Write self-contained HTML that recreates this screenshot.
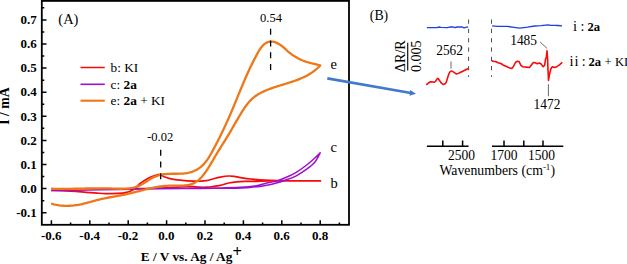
<!DOCTYPE html>
<html><head><meta charset="utf-8"><style>
html,body{margin:0;padding:0;background:#fff;width:627px;height:264px;overflow:hidden}
svg{display:block}
text{fill:#000;font-family:"Liberation Serif",serif}
</style></head><body>
<svg width="627" height="264" viewBox="0 0 627 264">
<rect x="41.8" y="0.9" width="307.2" height="223.9" fill="none" stroke="#000" stroke-width="1.8"/>
<path d="M41.8,212.70H46.50 M41.8,200.65H44.30 M41.8,188.60H46.50 M41.8,176.55H44.30 M41.8,164.50H46.50 M41.8,152.45H44.30 M41.8,140.40H46.50 M41.8,128.35H44.30 M41.8,116.30H46.50 M41.8,104.25H44.30 M41.8,92.20H46.50 M41.8,80.15H44.30 M41.8,68.10H46.50 M41.8,56.05H44.30 M41.8,44.00H46.50 M41.8,31.95H44.30 M41.8,19.90H46.50 M41.8,7.85H44.30 M51.40,224.8V220.30 M70.60,224.8V222.60 M89.80,224.8V220.30 M109.00,224.8V222.60 M128.20,224.8V220.30 M147.40,224.8V222.60 M166.60,224.8V220.30 M185.80,224.8V222.60 M205.00,224.8V220.30 M224.20,224.8V222.60 M243.40,224.8V220.30 M262.60,224.8V222.60 M281.80,224.8V220.30 M301.00,224.8V222.60 M320.20,224.8V220.30 M339.40,224.8V222.60" stroke="#000" stroke-width="1.5" fill="none"/>
<path d="M51.20,190.40 C53.62,190.47 61.55,190.63 65.70,190.80 C69.85,190.97 72.63,191.13 76.10,191.40 C79.57,191.67 83.05,192.12 86.50,192.40 C89.95,192.68 93.72,192.90 96.80,193.10 C99.88,193.30 102.57,193.50 105.00,193.60 C107.43,193.70 108.45,193.78 111.40,193.70 C114.35,193.62 119.93,193.38 122.70,193.10 C125.47,192.82 126.45,192.47 128.00,192.00 C129.55,191.53 130.83,190.87 132.00,190.30 C133.17,189.73 134.08,189.32 135.00,188.60 C135.92,187.88 136.70,186.83 137.50,186.00 C138.30,185.17 138.72,184.47 139.80,183.60 C140.88,182.73 142.52,181.73 144.00,180.80 C145.48,179.87 147.13,178.80 148.70,178.00 C150.27,177.20 151.82,176.58 153.40,176.00 C154.98,175.42 156.93,174.67 158.20,174.50 C159.47,174.33 159.87,174.58 161.00,175.00 C162.13,175.42 163.50,176.40 165.00,177.00 C166.50,177.60 167.50,178.07 170.00,178.60 C172.50,179.13 176.12,179.78 180.00,180.20 C183.88,180.62 188.88,181.03 193.30,181.10 C197.72,181.17 203.38,180.92 206.50,180.60 C209.62,180.28 209.70,179.78 212.00,179.20 C214.30,178.62 217.52,177.63 220.30,177.10 C223.08,176.57 226.20,176.08 228.70,176.00 C231.20,175.92 232.80,176.23 235.30,176.60 C237.80,176.97 240.92,177.78 243.70,178.20 C246.48,178.62 248.45,178.78 252.00,179.10 C255.55,179.42 258.67,179.82 265.00,180.10 C271.33,180.38 280.75,180.67 290.00,180.80 C299.25,180.93 315.42,180.88 320.50,180.90 C315.42,180.90 298.42,180.92 290.00,180.90 C281.58,180.88 275.83,180.73 270.00,180.80 C264.17,180.87 259.12,181.20 255.00,181.30 C250.88,181.40 248.30,181.32 245.30,181.40 C242.30,181.48 239.77,181.53 237.00,181.80 C234.23,182.07 231.48,182.42 228.70,183.00 C225.92,183.58 222.92,184.72 220.30,185.30 C217.68,185.88 215.30,186.18 213.00,186.50 C210.70,186.82 208.72,187.08 206.50,187.20 C204.28,187.32 201.90,187.30 199.70,187.20 C197.50,187.10 195.50,186.72 193.30,186.60 C191.10,186.48 190.38,186.33 186.50,186.50 C182.62,186.67 176.08,187.30 170.00,187.60 C163.92,187.90 156.67,188.13 150.00,188.30 C143.33,188.47 133.33,188.55 130.00,188.60" fill="none" stroke="#F80A0A" stroke-width="1.7" stroke-linejoin="round" stroke-linecap="butt"/>
<path d="M51.20,190.40 C52.67,190.40 55.87,190.43 60.00,190.40 C64.13,190.37 69.33,190.30 76.00,190.20 C82.67,190.10 91.00,189.97 100.00,189.80 C109.00,189.63 120.00,189.38 130.00,189.20 C140.00,189.02 148.33,188.83 160.00,188.70 C171.67,188.57 187.25,188.48 200.00,188.40 C212.75,188.32 228.22,188.37 236.50,188.20 C244.78,188.03 245.73,187.70 249.70,187.40 C253.67,187.10 257.25,186.78 260.30,186.40 C263.35,186.02 265.48,185.62 268.00,185.10 C270.52,184.58 272.43,184.15 275.40,183.30 C278.37,182.45 282.32,181.25 285.80,180.00 C289.28,178.75 292.77,177.60 296.25,175.80 C299.73,174.00 303.57,171.52 306.70,169.20 C309.82,166.88 312.75,164.63 315.00,161.90 C317.25,159.17 319.33,154.32 320.20,152.80 C319.33,153.65 317.25,155.87 315.00,157.90 C312.75,159.93 309.82,162.60 306.70,165.00 C303.57,167.40 299.73,170.22 296.25,172.30 C292.77,174.38 289.28,175.98 285.80,177.50 C282.32,179.02 278.87,180.42 275.40,181.40 C271.93,182.38 268.40,182.63 265.00,183.40 C261.60,184.17 259.17,185.35 255.00,186.00 C250.83,186.65 245.83,186.98 240.00,187.30 C234.17,187.62 226.67,187.78 220.00,187.90 C213.33,188.02 211.67,187.92 200.00,188.00 C188.33,188.08 158.33,188.33 150.00,188.40" fill="none" stroke="#A010CC" stroke-width="1.5" stroke-linejoin="round" stroke-linecap="butt"/>
<path d="M51.16,188.69 L52.67,188.74 L54.18,188.78 L55.69,188.82 L57.20,188.85 L58.70,188.87 L60.20,188.88 L61.70,188.89 L63.20,188.89 L64.69,188.89 L66.18,188.88 L67.68,188.86 L69.16,188.85 L70.65,188.82 L72.14,188.80 L73.62,188.77 L75.11,188.74 L76.59,188.71 L78.07,188.68 L79.55,188.64 L81.04,188.61 L82.52,188.57 L84.00,188.54 L85.48,188.50 L86.97,188.47 L88.45,188.44 L89.93,188.41 L91.42,188.39 L92.90,188.36 L94.39,188.34 L95.88,188.33 L97.37,188.32 L98.87,188.31 L100.36,188.31 L101.86,188.31 L103.36,188.32 L104.86,188.34 L106.36,188.36 L107.87,188.39 L109.38,188.43 L110.90,188.47 L112.41,188.53 L113.93,188.58 L115.45,188.63 L116.97,188.68 L118.48,188.72 L119.99,188.74 L121.50,188.74 L123.00,188.72 L124.49,188.68 L125.98,188.60 L127.45,188.49 L128.92,188.34 L130.37,188.14 L131.81,187.90 L133.24,187.61 L134.65,187.27 L136.04,186.86 L137.41,186.39 L138.77,185.85 L140.10,185.25 L141.42,184.57 L142.72,183.83 L144.01,183.06 L145.29,182.25 L146.56,181.43 L147.84,180.60 L149.12,179.78 L150.41,178.99 L151.71,178.24 L153.02,177.53 L154.36,176.90 L155.72,176.33 L157.10,175.82 L158.49,175.38 L159.91,175.00 L161.33,174.67 L162.78,174.40 L164.23,174.19 L165.70,174.03 L167.18,173.91 L168.67,173.83 L170.16,173.79 L171.67,173.76 L173.17,173.75 L174.68,173.75 L176.20,173.75 L177.71,173.74 L179.22,173.72 L180.73,173.67 L182.23,173.59 L183.73,173.48 L185.23,173.31 L186.71,173.09 L188.19,172.82 L189.65,172.47 L191.10,172.05 L192.52,171.57 L193.92,171.02 L195.28,170.41 L196.61,169.73 L197.89,168.99 L199.12,168.18 L200.30,167.32 L201.43,166.39 L202.50,165.41 L203.52,164.38 L204.50,163.30 L205.44,162.18 L206.34,161.02 L207.21,159.82 L208.04,158.60 L208.85,157.35 L209.64,156.07 L210.40,154.77 L211.15,153.46 L211.89,152.14 L212.62,150.82 L213.34,149.49 L214.06,148.16 L214.77,146.82 L215.48,145.48 L216.18,144.15 L216.87,142.81 L217.57,141.46 L218.25,140.12 L218.93,138.77 L219.61,137.42 L220.28,136.08 L220.94,134.73 L221.60,133.37 L222.26,132.02 L222.91,130.67 L223.55,129.31 L224.19,127.95 L224.82,126.60 L225.45,125.24 L226.08,123.88 L226.70,122.52 L227.31,121.16 L227.92,119.80 L228.53,118.44 L229.13,117.08 L229.72,115.72 L230.31,114.36 L230.90,113.00 L231.48,111.63 L232.05,110.27 L232.63,108.91 L233.20,107.55 L233.76,106.19 L234.33,104.83 L234.89,103.47 L235.45,102.11 L236.01,100.74 L236.57,99.38 L237.13,98.02 L237.69,96.66 L238.25,95.29 L238.81,93.93 L239.37,92.57 L239.93,91.21 L240.49,89.84 L241.06,88.48 L241.63,87.12 L242.20,85.75 L242.77,84.39 L243.35,83.02 L243.93,81.66 L244.52,80.29 L245.11,78.93 L245.71,77.56 L246.31,76.19 L246.92,74.83 L247.54,73.46 L248.16,72.09 L248.79,70.72 L249.43,69.35 L250.07,67.98 L250.72,66.62 L251.39,65.24 L252.06,63.87 L252.74,62.50 L253.43,61.13 L254.13,59.76 L254.84,58.39 L255.56,57.01 L256.29,55.64 L257.04,54.26 L257.80,52.89 L258.57,51.53 L259.37,50.20 L260.21,48.91 L261.07,47.67 L261.98,46.51 L262.94,45.44 L263.96,44.46 L265.03,43.60 L266.17,42.87 L267.38,42.28 L268.66,41.85 L269.97,41.60 L271.32,41.53 L272.69,41.64 L274.06,41.92 L275.44,42.35 L276.81,42.92 L278.16,43.60 L279.49,44.38 L280.79,45.24 L282.05,46.18 L283.26,47.16 L284.44,48.18 L285.59,49.22 L286.73,50.26 L287.87,51.28 L289.03,52.26 L290.20,53.21 L291.38,54.11 L292.58,54.98 L293.80,55.81 L295.04,56.60 L296.30,57.35 L297.57,58.07 L298.87,58.74 L300.19,59.38 L301.53,59.99 L302.89,60.55 L304.27,61.08 L305.68,61.57 L307.11,62.03 L308.56,62.46 L310.03,62.86 L311.50,63.24 L312.98,63.60 L314.45,63.96 L315.92,64.31 L317.37,64.66 L318.81,65.01 L320.22,65.38 L320.23,65.34 L319.25,66.38 L318.26,67.38 L317.24,68.34 L316.21,69.26 L315.15,70.14 L314.08,70.99 L312.98,71.80 L311.87,72.57 L310.74,73.32 L309.60,74.04 L308.44,74.72 L307.27,75.38 L306.08,76.02 L304.88,76.63 L303.67,77.21 L302.44,77.77 L301.20,78.32 L299.96,78.84 L298.70,79.34 L297.44,79.83 L296.16,80.31 L294.88,80.77 L293.59,81.22 L292.30,81.65 L291.00,82.08 L289.70,82.50 L288.39,82.92 L287.08,83.32 L285.77,83.73 L284.45,84.13 L283.14,84.53 L281.82,84.93 L280.51,85.34 L279.19,85.74 L277.88,86.15 L276.57,86.57 L275.27,87.00 L273.97,87.43 L272.67,87.87 L271.38,88.33 L270.09,88.80 L268.82,89.28 L267.55,89.78 L266.28,90.29 L265.03,90.83 L263.79,91.38 L262.57,91.96 L261.36,92.56 L260.16,93.19 L258.99,93.85 L257.84,94.53 L256.71,95.25 L255.61,96.01 L254.54,96.80 L253.49,97.63 L252.48,98.50 L251.50,99.41 L250.55,100.35 L249.63,101.33 L248.74,102.34 L247.87,103.38 L247.02,104.44 L246.19,105.53 L245.39,106.64 L244.60,107.76 L243.83,108.90 L243.07,110.06 L242.32,111.22 L241.59,112.40 L240.87,113.57 L240.15,114.76 L239.44,115.94 L238.74,117.12 L238.04,118.31 L237.35,119.49 L236.66,120.68 L235.97,121.87 L235.29,123.05 L234.61,124.24 L233.93,125.42 L233.26,126.60 L232.58,127.78 L231.90,128.96 L231.22,130.14 L230.54,131.31 L229.85,132.48 L229.16,133.64 L228.47,134.80 L227.78,135.96 L227.07,137.11 L226.37,138.26 L225.66,139.41 L224.95,140.55 L224.24,141.69 L223.52,142.84 L222.80,143.98 L222.09,145.12 L221.37,146.26 L220.65,147.41 L219.93,148.55 L219.22,149.70 L218.50,150.85 L217.79,152.01 L217.08,153.17 L216.38,154.33 L215.68,155.51 L214.98,156.68 L214.29,157.87 L213.59,159.06 L212.90,160.25 L212.21,161.45 L211.51,162.64 L210.81,163.84 L210.10,165.03 L209.38,166.21 L208.65,167.39 L207.91,168.56 L207.15,169.73 L206.37,170.88 L205.57,172.02 L204.75,173.14 L203.90,174.25 L203.04,175.34 L202.14,176.41 L201.21,177.45 L200.26,178.45 L199.28,179.40 L198.26,180.30 L197.22,181.13 L196.14,181.89 L195.03,182.57 L193.89,183.17 L192.71,183.69 L191.50,184.12 L190.27,184.49 L189.01,184.80 L187.72,185.04 L186.42,185.24 L185.09,185.38 L183.75,185.49 L182.40,185.56 L181.03,185.61 L179.65,185.63 L178.26,185.63 L176.87,185.63 L175.47,185.61 L174.08,185.61 L172.68,185.60 L171.28,185.62 L169.89,185.65 L168.51,185.70 L167.13,185.78 L165.76,185.88 L164.39,186.01 L163.03,186.15 L161.68,186.32 L160.33,186.50 L158.98,186.70 L157.64,186.91 L156.31,187.15 L154.97,187.39 L153.64,187.65 L152.32,187.92 L151.00,188.20 L149.67,188.50 L148.36,188.80 L147.04,189.11 L145.73,189.42 L144.41,189.75 L143.10,190.07 L141.79,190.40 L140.48,190.73 L139.17,191.07 L137.86,191.40 L136.54,191.74 L135.23,192.07 L133.92,192.40 L132.60,192.73 L131.29,193.05 L129.97,193.36 L128.65,193.67 L127.32,193.97 L126.00,194.26 L124.67,194.54 L123.34,194.81 L122.00,195.07 L120.66,195.33 L119.32,195.57 L117.98,195.82 L116.64,196.06 L115.29,196.29 L113.95,196.53 L112.60,196.77 L111.26,197.01 L109.92,197.25 L108.57,197.50 L107.23,197.76 L105.90,198.02 L104.56,198.30 L103.23,198.58 L101.90,198.88 L100.58,199.19 L99.25,199.52 L97.94,199.86 L96.62,200.21 L95.31,200.56 L94.00,200.92 L92.69,201.29 L91.38,201.65 L90.07,202.01 L88.76,202.37 L87.45,202.72 L86.14,203.07 L84.82,203.40 L83.51,203.72 L82.18,204.02 L80.86,204.31 L79.53,204.57 L78.19,204.81 L76.86,205.03 L75.51,205.23 L74.17,205.40 L72.82,205.55 L71.47,205.67 L70.11,205.76 L68.76,205.82 L67.40,205.86 L66.04,205.86 L64.69,205.83 L63.33,205.76 L61.97,205.67 L60.61,205.53 L59.26,205.37 L57.91,205.16 L56.56,204.92 L55.21,204.64 L53.86,204.31 L52.52,203.95 L51.19,203.55" fill="none" stroke="#ED7819" stroke-width="2.3" stroke-linejoin="round" stroke-linecap="butt"/>
<path d="M270.6,28.8V71" stroke="#000" stroke-width="1.3" stroke-dasharray="6 5.7"/>
<path d="M160.7,149.8V180" stroke="#000" stroke-width="1.3" stroke-dasharray="6 5.7"/>
<g font-family="Liberation Serif" font-weight="bold" font-size="13"><text x="36.8" y="216.90" text-anchor="end">-0.1</text><text x="36.8" y="192.80" text-anchor="end">0.0</text><text x="36.8" y="168.70" text-anchor="end">0.1</text><text x="36.8" y="144.60" text-anchor="end">0.2</text><text x="36.8" y="120.50" text-anchor="end">0.3</text><text x="36.8" y="96.40" text-anchor="end">0.4</text><text x="36.8" y="72.30" text-anchor="end">0.5</text><text x="36.8" y="48.20" text-anchor="end">0.6</text><text x="36.8" y="24.10" text-anchor="end">0.7</text></g>
<g font-family="Liberation Serif" font-weight="bold" font-size="13"><text x="51.20" y="240.1" text-anchor="middle">-0.6</text><text x="89.60" y="240.1" text-anchor="middle">-0.4</text><text x="128.00" y="240.1" text-anchor="middle">-0.2</text><text x="166.40" y="240.1" text-anchor="middle">0.0</text><text x="204.80" y="240.1" text-anchor="middle">0.2</text><text x="243.20" y="240.1" text-anchor="middle">0.4</text><text x="281.60" y="240.1" text-anchor="middle">0.6</text><text x="320.00" y="240.1" text-anchor="middle">0.8</text></g>
<text transform="translate(9.2,106) rotate(-90)" font-family="Liberation Serif" font-weight="bold" font-size="13.8" text-anchor="middle">I / mA</text>
<text x="140.8" y="261.1" font-family="Liberation Serif" font-weight="bold" font-size="13.3">E / V vs. Ag / Ag<tspan dx="0.2" dy="-4.2" font-size="16.5">+</tspan></text>
<text x="58.3" y="24.0" font-family="Liberation Serif" font-size="14.5">(A)</text>
<text x="271" y="22.3" font-family="Liberation Serif" font-size="12.5" text-anchor="middle">0.54</text>
<text x="160.2" y="140.9" font-family="Liberation Serif" font-size="12.5" text-anchor="middle">-0.02</text>
<text x="330.5" y="69.2" font-family="Liberation Serif" font-size="14.5">e</text>
<text x="330.5" y="152.4" font-family="Liberation Serif" font-size="14.5">c</text>
<text x="330.5" y="187.6" font-family="Liberation Serif" font-size="14.5">b</text>
<path d="M80.5,67.5H104.8" stroke="#F80A0A" stroke-width="1.5"/>
<path d="M80.5,84.3H104.8" stroke="#A010CC" stroke-width="1.6"/>
<path d="M80.5,100.7H104.8" stroke="#ED7819" stroke-width="2.1"/>
<g font-family="Liberation Serif" font-size="13.3"><text x="110.6" y="71.8">b: KI</text><text x="110.6" y="88.6">c: <tspan font-weight="bold">2a</tspan></text><text x="110.6" y="105.4">e: <tspan font-weight="bold">2a</tspan> + KI</text></g>
<path d="M327.3,78.4L411,93.0" stroke="#4279CE" stroke-width="2.6" fill="none"/>
<path d="M416,93.7L410.2,89.9L409.5,95.7Z" fill="#4279CE"/>
<text x="369.8" y="20.3" font-family="Liberation Serif" font-size="13.8">(B)</text>
<path d="M468.6,19.5V77M491.5,19.5V77" stroke="#505050" stroke-width="1" stroke-dasharray="4.3 5"/>
<polyline points="426.9,27.6 432,27.6 437.2,27.6 439,27.0 440.9,27.3 447.5,27.7 450.4,26.8 453.3,27.0 454.8,27.7 457,27.0 462.2,27.0 464,27.9 465.8,27.3 468.2,26.9" fill="none" stroke="#1F3FE0" stroke-width="1.35" stroke-linejoin="round"/>
<polyline points="492.1,25.9 498,26.4 503,26.3 507.3,26.4 514,27.4 519.8,28.2 524,27.6 527.7,27.1 534.5,26.0 541,25.6 548,24.9 551,25.4 554,25.3 558,25.5 562,25.9" fill="none" stroke="#1F3FE0" stroke-width="1.35" stroke-linejoin="round"/>
<path d="M426.30,84.80 C426.72,84.45 428.03,83.18 428.80,82.70 C429.57,82.22 430.02,82.00 430.90,81.90 C431.78,81.80 433.30,82.23 434.10,82.10 C434.90,81.97 435.08,81.72 435.70,81.10 C436.32,80.48 437.10,78.40 437.80,78.40 C438.50,78.40 439.20,80.22 439.90,81.10 C440.60,81.98 441.30,83.17 442.00,83.70 C442.70,84.23 443.38,84.57 444.10,84.30 C444.82,84.03 445.67,83.35 446.30,82.10 C446.93,80.85 447.37,78.38 447.90,76.80 C448.43,75.22 448.92,73.57 449.50,72.60 C450.08,71.63 450.70,71.08 451.40,71.00 C452.10,70.92 452.78,71.62 453.70,72.10 C454.62,72.58 455.85,73.82 456.90,73.90 C457.95,73.98 458.77,73.17 460.00,72.60 C461.23,72.03 462.90,71.20 464.30,70.50 C465.70,69.80 467.72,68.75 468.40,68.40" fill="none" stroke="#F80A0A" stroke-width="1.6" stroke-linejoin="round"/>
<polyline points="491.8,60.7 493.6,61.5 495.5,61.5 498.2,62.7 500.9,63.5 503.6,65.3 506.4,66.6 509.1,67.8 511.8,68.5 513.6,66.2 515.5,62.5 517.3,61.2 519.1,61.6 520.9,65.3 522.7,66.8 526.4,67.1 529.5,67.5 531.8,64.5 533.3,62.5 535.6,62.9 537.1,63.7 539.4,62.9 540.9,63.7 543.2,66.7 544.7,65.2 545.5,59.2 546.3,57.5 547,50.8 547.6,58.5 548.0,69.8 548.5,80.4 549.2,75.8 550.8,69 552.3,66.7 554.5,67.5 556.8,66.7 559.1,65.2 562.3,62.4" fill="none" stroke="#F80A0A" stroke-width="1.6" stroke-linejoin="round"/>
<path d="M451,61.5V68.6M540.2,42L547,48.4M548.4,84.2V96.2" stroke="#6a6a6a" stroke-width="1" fill="none"/>
<g font-family="Liberation Serif" font-size="13.4"><text transform="translate(436.2,55.4) scale(1,1.09)">2562</text><text transform="translate(510.2,45.4) scale(1,1.09)">1485</text><text transform="translate(533.6,109.3) scale(1,1.09)">1472</text></g>
<text transform="translate(404.6,56.2) rotate(-90)" font-family="Liberation Serif" font-size="14.2" text-anchor="middle">&#916;R/R</text>
<path d="M407.7,42.7V70.5" stroke="#111" stroke-width="1.2"/>
<text transform="translate(420.6,56.2) rotate(-90)" font-family="Liberation Serif" font-size="14" text-anchor="middle">0.005</text>
<text y="31" font-family="Liberation Serif" font-size="12.6"><tspan x="573.0" font-size="14.5">i</tspan><tspan x="580.4" font-size="14">:</tspan><tspan x="587.4" font-weight="bold">2a</tspan></text>
<text y="65.6" font-family="Liberation Serif" font-size="12.6"><tspan x="569.6" font-size="14.5">i</tspan><tspan x="574.5" font-size="14.5">i</tspan><tspan x="581.8" font-size="14">:</tspan><tspan x="588.5" font-weight="bold">2a</tspan><tspan x="604.6">+</tspan><tspan x="615">KI</tspan></text>
<path d="M426.9,146.2H468.6M492,146.2H563.3M442.8,146.2V140.6M462.6,146.2V140.6M504,146.2V140.6M523.8,146.2V140.6M543,146.2V140.6" stroke="#000" stroke-width="1.5" fill="none"/>
<g font-family="Liberation Serif" font-size="13.5"><text transform="translate(448.1,159.7) scale(1,1.09)">2500</text><text transform="translate(490.4,159.7) scale(1,1.09)">1700</text><text transform="translate(527.9,159.7) scale(1,1.09)">1500</text><text x="439.4" y="174.8" font-size="13.8">Wavenumbers (cm<tspan dy="-5.2" font-size="9">-1</tspan><tspan dy="5.2">)</tspan></text></g>
</svg>
</body></html>
